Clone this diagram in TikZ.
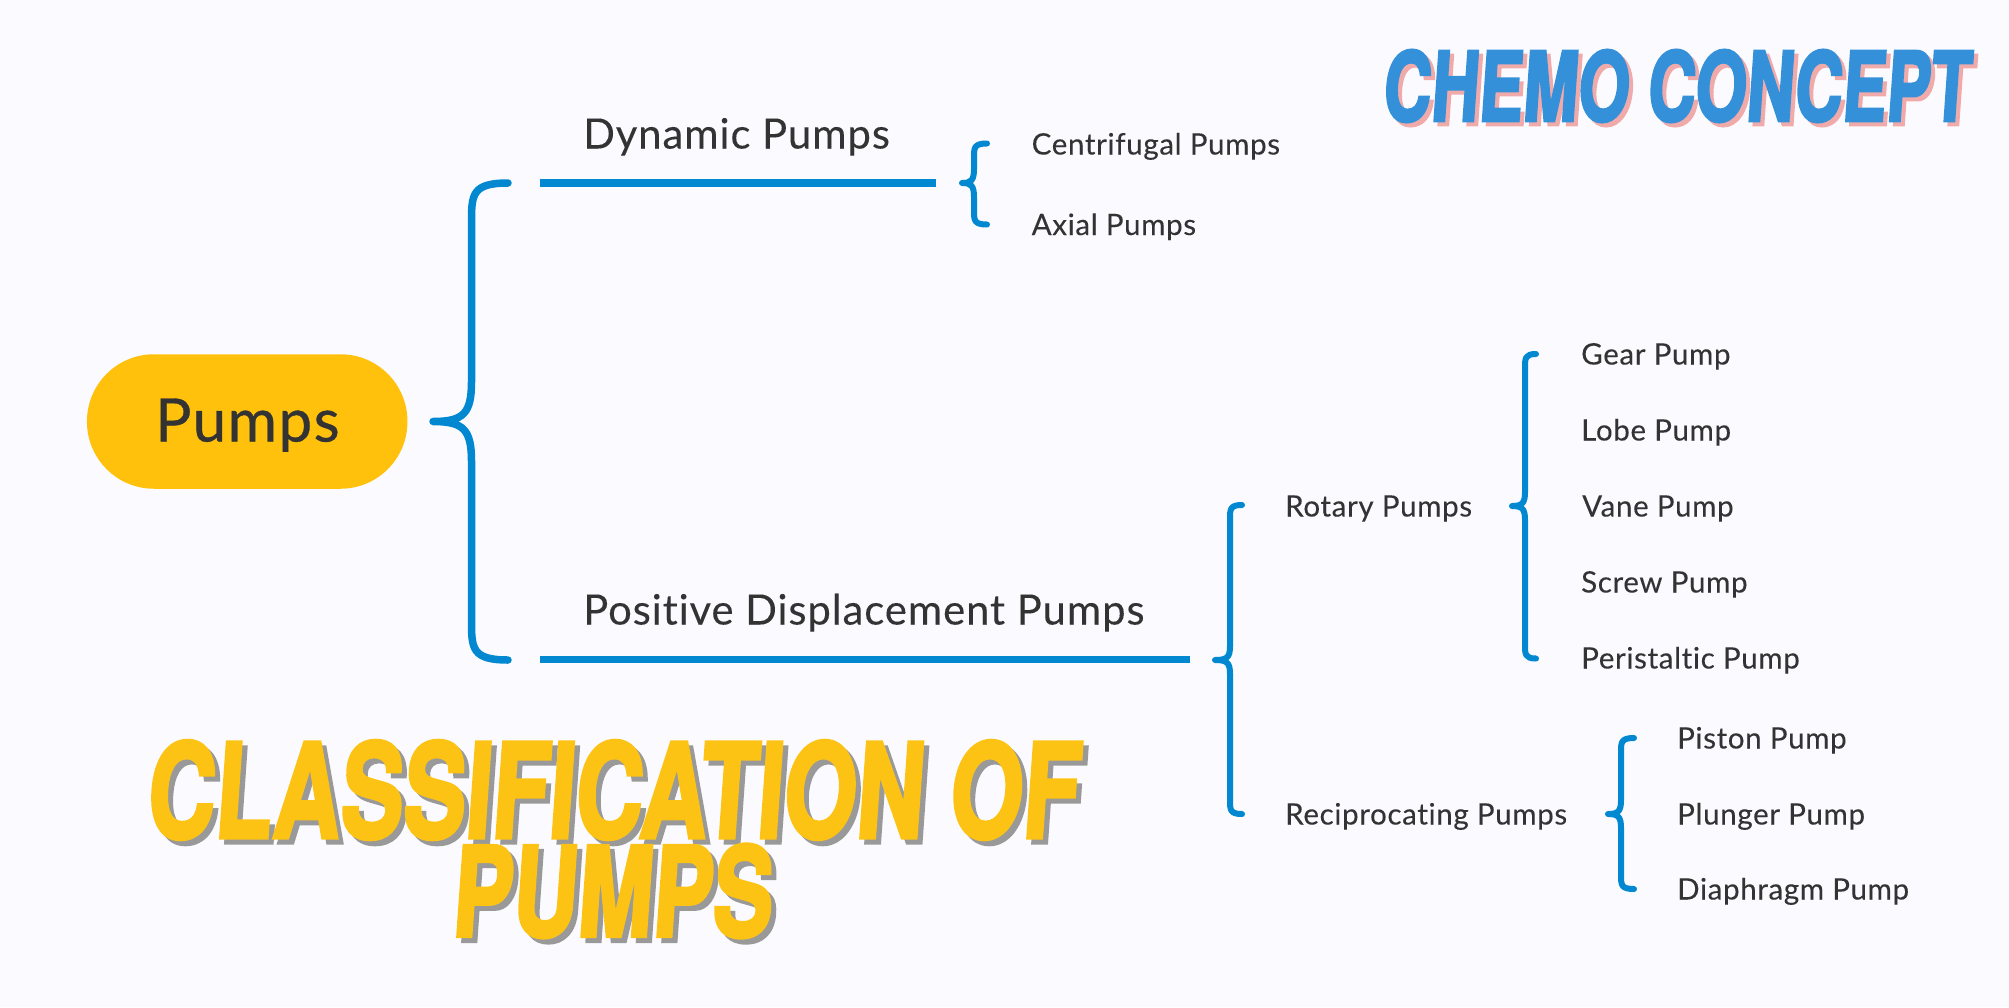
\documentclass[tikz,border=0pt]{standalone}
\usepackage{fontspec}
\setmainfont[LetterSpace=2.2,FakeBold=0.15,Ligatures=NoCommon]{Lato}
\newfontfamily\pillfont[LetterSpace=2.5,FakeBold=0.6,Ligatures=NoCommon]{Lato}
\newfontfamily\heavy[BoldFont=* Bold,BoldFeatures={FakeBold=3}]{TeX Gyre Heros}
\definecolor{bgc}{HTML}{FBFBFF}
\definecolor{linec}{HTML}{0288D1}
\definecolor{pillc}{HTML}{FFC10B}
\definecolor{textc}{HTML}{333333}
\definecolor{titleb}{HTML}{3490D8}
\definecolor{titley}{HTML}{FDC314}
\definecolor{shadp}{HTML}{F0AAAA}
\definecolor{shadg}{HTML}{999999}
\tikzset{
  lab/.style={anchor=base west,inner sep=0pt,text=textc,font=\fontsize{29.5}{30}\selectfont},
  head/.style={anchor=base west,inner sep=0pt,text=textc,font=\fontsize{41.8}{42}\selectfont},
  rail/.style={draw=linec,line width=7.5pt},
  curly/.style={draw=linec,line width=#1,line cap=round,line join=round},
  bigtitle/.style={inner sep=0pt,transform shape,xslant=0.07},
}
% #1 name, #2 tip x, #3 stem x, #4 end x, #5 top y, #6 mid y, #7 bottom y, #8 radius, #9 width
\newcommand\curlypath[9]{%
  \coordinate (#1top) at (#4,#5);
  \coordinate (#1tip) at (#2,#6);
  \coordinate (#1bot) at (#4,#7);
  \draw[curly=#9] (#1top) .. controls (#3,#5) and (#3,#5+0.3*#8) .. (#3,#5+#8)
    -- (#3,#6-#8) .. controls (#3,#6-0.2*#8) and (#3-0.2*#8,#6) .. (#1tip)
    .. controls (#3-0.2*#8,#6) and (#3,#6+0.2*#8) .. (#3,#6+#8)
    -- (#3,#7-#8) .. controls (#3,#7-0.3*#8) and (#3,#7) .. (#1bot);
}
\begin{document}
\begin{tikzpicture}[x=1pt,y=-1pt]
\useasboundingbox (0,0) rectangle (2009,1007);
\fill[bgc] (0,0) rectangle (2009,1007);

\node[fill=pillc,rounded corners=67pt,minimum width=320.5pt,minimum height=134.5pt,inner sep=0pt] (pumps) at (247.2,421.5) {};
\node[anchor=base,inner sep=0pt,text=textc,font=\pillfont\fontsize{60}{60}\selectfont] (pumpst) at (247.5,441.5) {Pumps};

\curlypath{a}{433}{471.5}{508}{183}{421.5}{660}{40}{7.5pt}
\curlypath{b}{962}{974}{987}{143.5}{183}{224.5}{14}{6pt}
\curlypath{c}{1215}{1230}{1242}{505}{660}{814}{14}{6pt}
\curlypath{d}{1512}{1525}{1536}{354}{506}{658.5}{14}{6pt}
\curlypath{e}{1608}{1621}{1634}{738}{814}{889}{14}{6pt}

\node[head] (dyn) at (583,148.5) {Dynamic Pumps};
\node[head] (pos) at (583,624.5) {Positive Displacement Pumps};
\coordinate (dynl) at (539.5,183);
\coordinate (dynr) at (935.5,183);
\coordinate (posl) at (539.5,659.5);
\coordinate (posr) at (1190,659.5);
\draw[rail] (dynl) -- (dynr);
\draw[rail] (posl) -- (posr);

\node[lab] (cen) at (1031.5,154.5) {Centrifugal Pumps};
\node[lab] (axi) at (1031.5,235) {Axial Pumps};
\node[lab] (rot) at (1285,516.5) {Rotary Pumps};
\node[lab] (rec) at (1285,824.5) {Reciprocating Pumps};
\node[lab] (gea) at (1581,364.5) {Gear Pump};
\node[lab] (lob) at (1581,440.5) {Lobe Pump};
\node[lab] (van) at (1582,516.5) {Vane Pump};
\node[lab] (scr) at (1581,592.5) {Screw Pump};
\node[lab] (per) at (1581,668.5) {Peristaltic Pump};
\node[lab] (pis) at (1677,748.5) {Piston Pump};
\node[lab] (plu) at (1677,824.5) {Plunger Pump};
\node[lab] (dia) at (1677,899.5) {Diaphragm Pump};

\node[bigtitle,text=shadp] (cc2) at (1682,90) {\resizebox{587pt}{71pt}{\heavy\bfseries CHEMO CONCEPT}};
\node[bigtitle,text=titleb] (cc) at (1678,86) {\resizebox{587pt}{71pt}{\heavy\bfseries CHEMO CONCEPT}};
\node[bigtitle,text=shadg] (co2) at (620,795) {\resizebox{932pt}{97pt}{\heavy\bfseries CLASSIFICATION OF}};
\node[bigtitle,text=titley] (co) at (615,790) {\resizebox{932pt}{97pt}{\heavy\bfseries CLASSIFICATION OF}};
\node[bigtitle,text=shadg] (pu2) at (619,896) {\resizebox{320pt}{92pt}{\heavy\bfseries PUMPS}};
\node[bigtitle,text=titley] (pu) at (614,891) {\resizebox{320pt}{92pt}{\heavy\bfseries PUMPS}};
\end{tikzpicture}
\end{document}
